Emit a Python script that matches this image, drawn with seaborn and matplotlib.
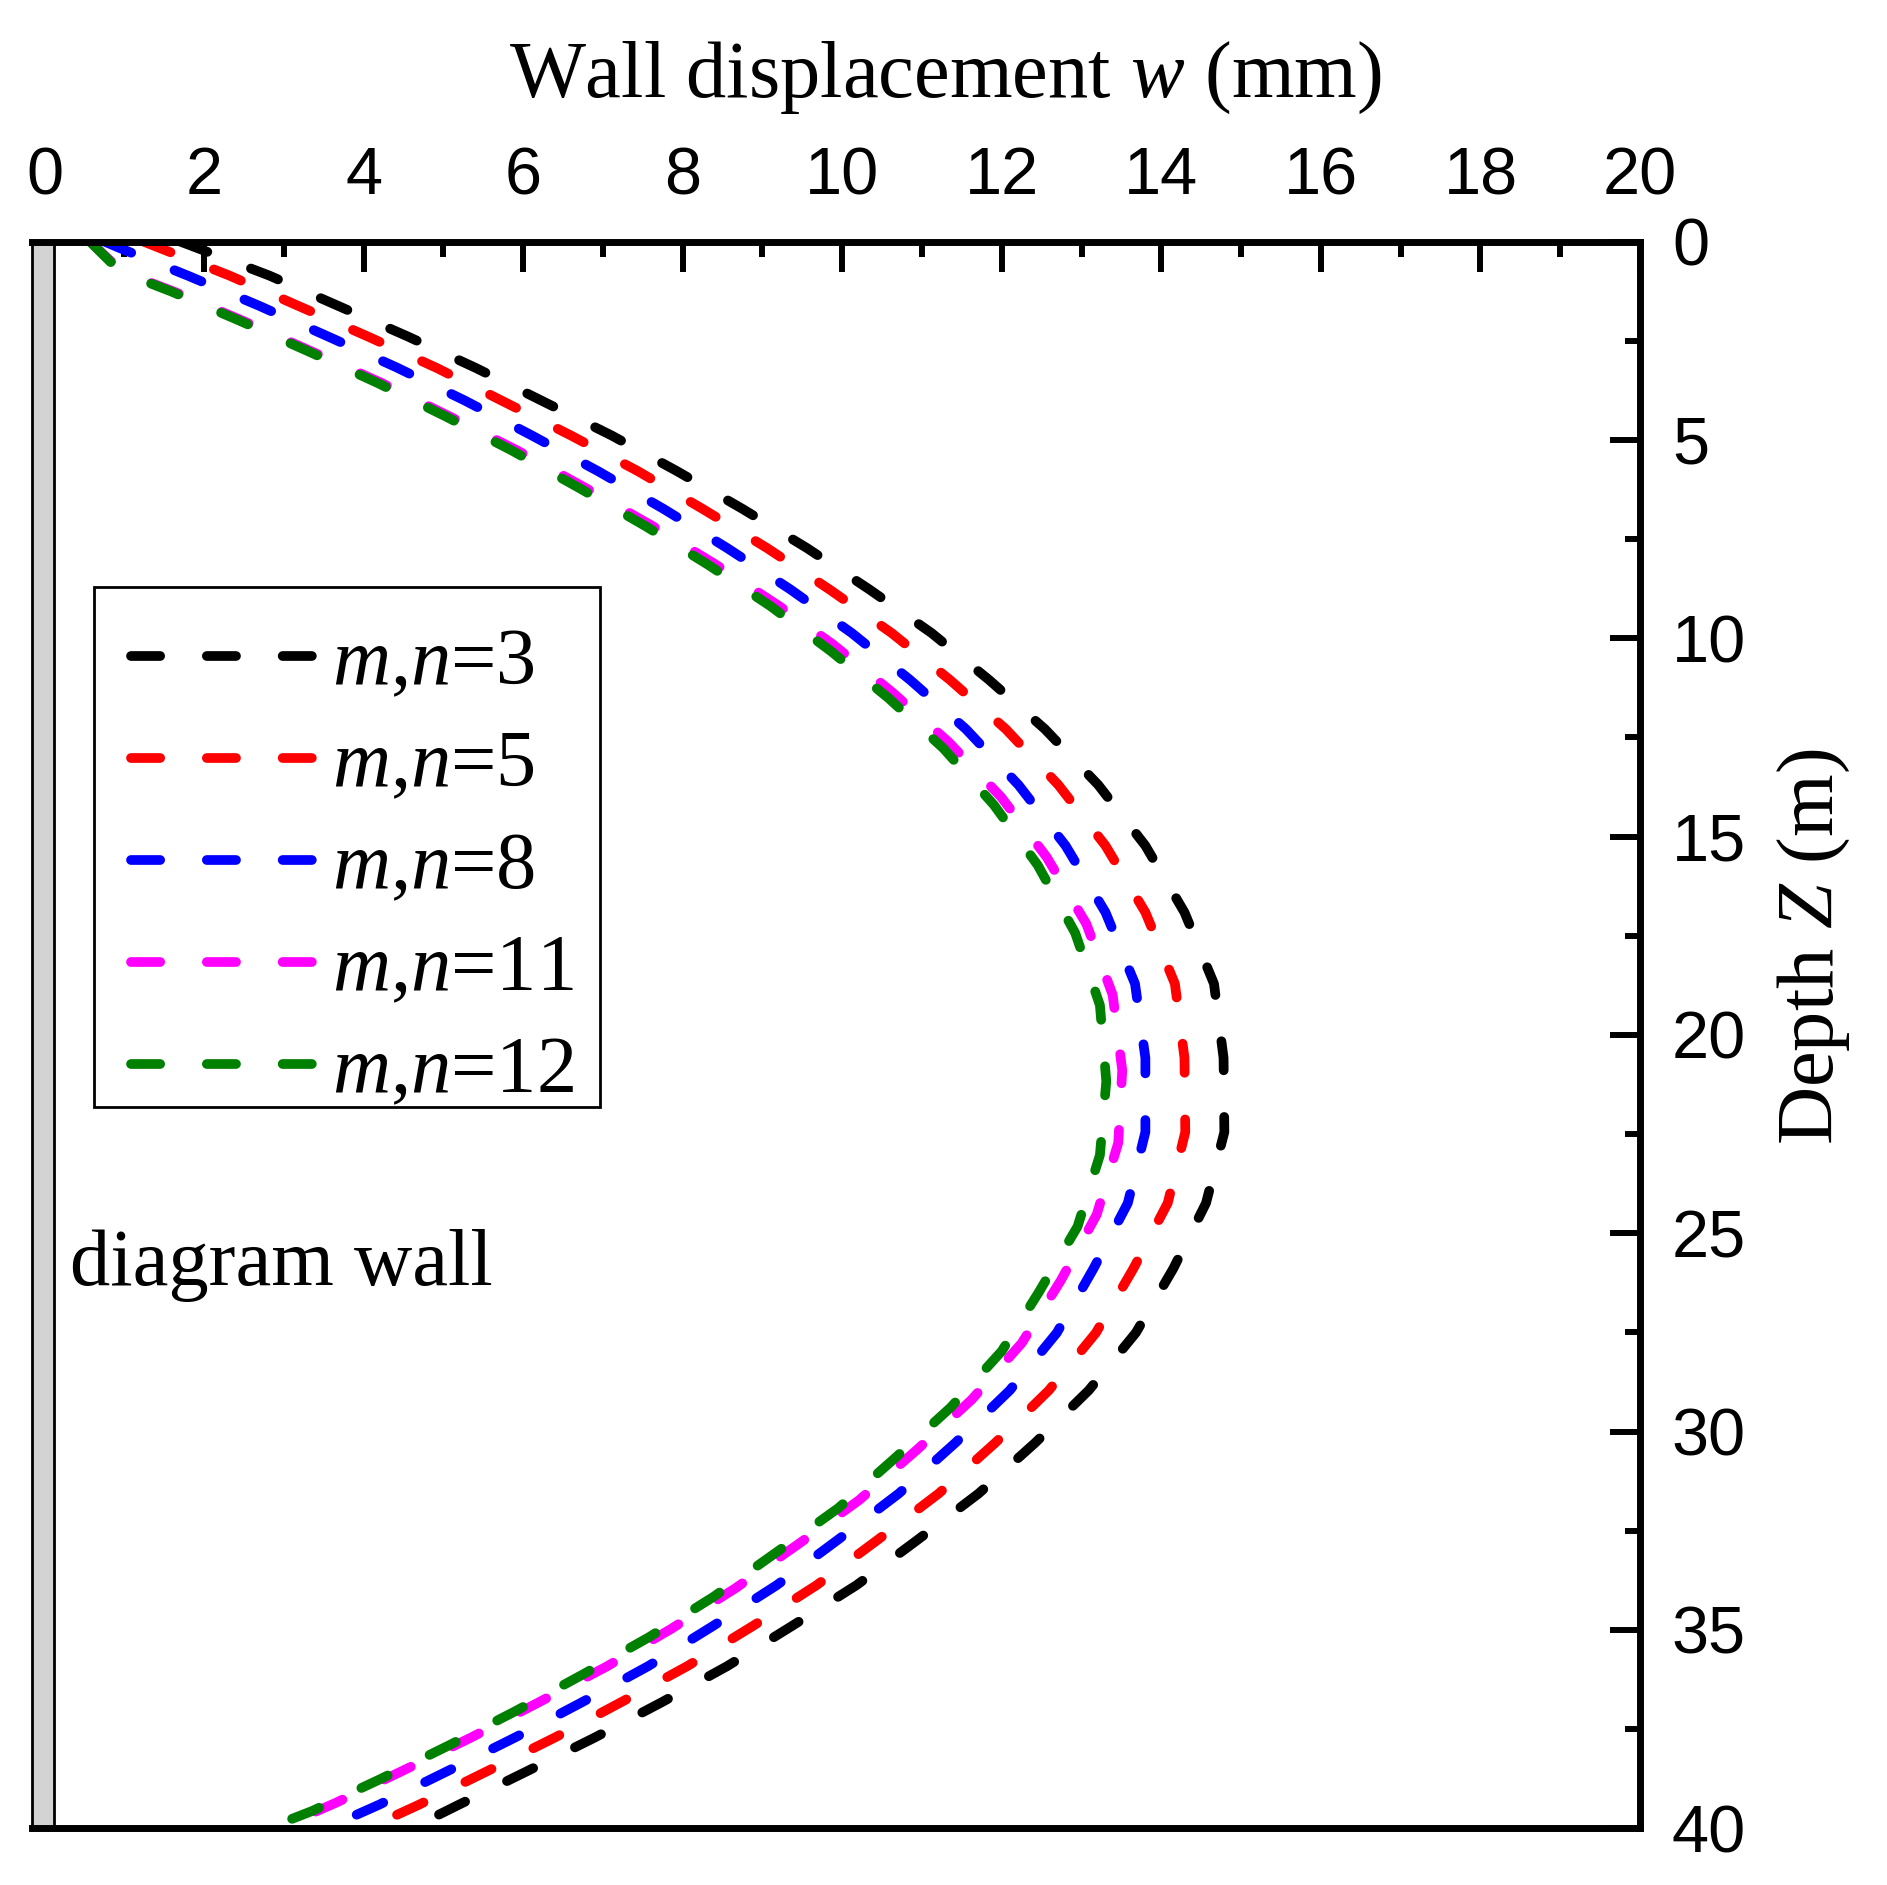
import matplotlib
matplotlib.use("Agg")
import matplotlib.pyplot as plt
import seaborn as sns
import pandas as pd
from matplotlib.patches import Rectangle
from matplotlib.ticker import MultipleLocator

# ---------------- data ----------------
series_values = ["3", "5", "8", "11", "12"]
series_colors = ["#000000", "#FF0000", "#0000FF", "#FF00FF", "#008000"]

depth_3 = [0, 0.19, 0.86, 1.63, 2.39, 3.19, 4.04, 4.89, 5.79, 6.74, 7.73, 8.77, 9.87, 11.05,
           12.29, 13.70, 15.23, 16.91, 18.71, 20.58, 22.45, 24.24, 25.89, 27.51, 28.96, 30.28,
           31.56, 32.72, 33.87, 34.90, 35.91, 36.82, 37.71, 38.56, 39.41, 40]
disp_3 = [1.70, 1.95, 2.82, 3.69, 4.55, 5.41, 6.26, 7.11, 7.93, 8.75, 9.56, 10.34, 11.12, 11.84,
          12.54, 13.21, 13.80, 14.29, 14.66, 14.78, 14.79, 14.56, 14.15, 13.68, 13.09, 12.42,
          11.71, 10.95, 10.18, 9.37, 8.56, 7.74, 6.90, 6.05, 5.19, 4.60]

depth_5 = [0, 0.16, 0.86, 1.63, 2.40, 3.19, 4.04, 4.89, 5.79, 6.74, 7.73, 8.77, 9.87, 11.05,
           12.29, 13.70, 15.23, 16.91, 18.71, 20.58, 22.45, 24.24, 25.89, 27.51, 28.96, 30.28,
           31.56, 32.72, 33.87, 34.90, 35.91, 36.82, 37.71, 38.56, 39.41, 40]
disp_5 = [1.24, 1.44, 2.32, 3.19, 4.06, 4.92, 5.76, 6.60, 7.44, 8.25, 9.06, 9.84, 10.62, 11.35,
          12.05, 12.71, 13.30, 13.80, 14.17, 14.29, 14.30, 14.08, 13.65, 13.18, 12.59, 11.92,
          11.21, 10.45, 9.68, 8.88, 8.06, 7.23, 6.40, 5.55, 4.69, 4.05]

depth_8 = [0, 0.17, 0.88, 1.62, 2.39, 3.17, 4.01, 4.89, 5.79, 6.74, 7.73, 8.77, 9.87, 11.05,
           12.29, 13.70, 15.23, 16.91, 18.71, 20.58, 22.45, 24.24, 25.89, 27.51, 28.96, 30.28,
           31.56, 32.72, 33.87, 34.90, 35.91, 36.82, 37.71, 38.56, 39.41, 40]
disp_8 = [0.75, 0.95, 1.82, 2.69, 3.55, 4.41, 5.27, 6.11, 6.94, 7.76, 8.56, 9.35, 10.12, 10.85,
          11.55, 12.21, 12.80, 13.30, 13.67, 13.80, 13.80, 13.58, 13.15, 12.69, 12.10, 11.42,
          10.71, 9.95, 9.18, 8.38, 7.57, 6.74, 5.90, 5.05, 4.19, 3.53]

depth_11 = [0, 0.76, 1.26, 2.00, 2.78, 3.56, 4.40, 5.27, 6.21, 7.17, 8.15, 9.19, 10.15, 11.35,
            12.61, 14.00, 15.51, 17.20, 18.99, 20.89, 22.72, 24.53, 26.19, 27.77, 29.20, 30.47,
            31.73, 32.85, 33.95, 34.98, 35.93, 36.82, 37.71, 38.54, 39.36, 40]
disp_11 = [0.57, 0.97, 1.62, 2.49, 3.36, 4.22, 5.07, 5.93, 6.78, 7.62, 8.42, 9.21, 9.88, 10.62,
           11.33, 11.99, 12.56, 13.06, 13.39, 13.51, 13.46, 13.19, 12.74, 12.25, 11.62, 10.93,
           10.21, 9.44, 8.66, 7.85, 7.04, 6.20, 5.35, 4.50, 3.65, 2.92]

depth_12 = [0, 0.76, 1.26, 2.00, 2.78, 3.56, 4.40, 5.27, 6.21, 7.17, 8.15, 9.19, 10.33, 11.51,
            12.78, 14.20, 15.72, 17.43, 19.25, 21.17, 23.03, 24.83, 26.50, 27.97, 29.39, 30.67,
            31.93, 33.05, 34.16, 35.18, 36.12, 37.04, 37.91, 38.76, 39.56, 40]
disp_12 = [0.57, 0.95, 1.59, 2.45, 3.32, 4.17, 5.02, 5.86, 6.70, 7.53, 8.32, 9.10, 9.86, 10.58,
           11.27, 11.90, 12.45, 12.92, 13.23, 13.31, 13.23, 12.95, 12.46, 12.00, 11.36, 10.66,
           9.95, 9.17, 8.39, 7.58, 6.75, 5.91, 5.07, 4.21, 3.36, 2.80]

x_ticks = [0, 2, 4, 6, 8, 10, 12, 14, 16, 18, 20]
y_ticks = [0, 5, 10, 15, 20, 25, 30, 35, 40]

depths = [depth_3, depth_5, depth_8, depth_11, depth_12]
disps = [disp_3, disp_5, disp_8, disp_11, disp_12]

# ---------------- style ----------------
sns.set_theme(style="white")
plt.rcParams["font.family"] = ["Liberation Serif", "DejaVu Serif"]
plt.rcParams["mathtext.fontset"] = "custom"
plt.rcParams["mathtext.rm"] = "Liberation Serif"
plt.rcParams["mathtext.it"] = "Liberation Serif:italic"
plt.rcParams["axes.edgecolor"] = "black"
plt.rcParams["text.color"] = "black"
plt.rcParams["axes.labelcolor"] = "black"
plt.rcParams["xtick.color"] = "black"
plt.rcParams["ytick.color"] = "black"

fig = plt.figure(figsize=(18.87, 18.85), dpi=100)
fig.patch.set_facecolor("white")
ax = fig.add_axes([0.01722, 0.03008, 0.85188, 0.84180])
ax.set_facecolor("white")

for val, col, z, w in zip(series_values, series_colors, depths, disps):
    df = pd.DataFrame({"w": w, "z": z})
    sns.lineplot(data=df, x="w", y="z", orient="y", estimator=None, errorbar=None,
                 sort=True, color=col, linewidth=7.0, linestyle=(0, (3.0, 4.8)),
                 dash_capstyle="round", label=f"$m$,$n$={val}", legend=False,
                 ax=ax, zorder=2)

# diaphragm wall strip
ax.add_patch(Rectangle((-0.15, 0), 0.265, 40, facecolor="#d3d3d3", edgecolor="black",
                       linewidth=2, zorder=3, clip_on=False))

ax.set_xlim(-0.15, 20)
ax.set_ylim(40, 0)

ax.xaxis.tick_top()
ax.yaxis.tick_right()
ax.set_xticks(x_ticks)
ax.set_yticks(y_ticks)
ax.xaxis.set_minor_locator(MultipleLocator(1))
ax.yaxis.set_minor_locator(MultipleLocator(2.5))
ax.tick_params(axis="both", which="major", direction="in", length=21.6, width=4.3,
               labelsize=48, color="black", labelcolor="black",
               labelfontfamily="Liberation Sans")
ax.tick_params(axis="both", which="minor", direction="in", length=10.8, width=4.3,
               color="black")
ax.tick_params(axis="x", which="major", pad=24)
ax.tick_params(axis="y", which="major", pad=23)
ax.grid(False)

for side in ["top", "bottom", "right"]:
    ax.spines[side].set_linewidth(5)
    ax.spines[side].set_color("black")
    ax.spines[side].set_zorder(4)
ax.spines["left"].set_visible(False)

ax.set_xlabel("Wall displacement $w$ (mm)", fontsize=58, color="black")
ax.xaxis.set_label_position("top")
ax.xaxis.set_label_coords(0.5677, 1.0911)
ax.xaxis.label.set_verticalalignment("baseline")
ax.xaxis.label.set_horizontalalignment("center")

ax.set_ylabel("Depth $Z$ (m)", fontsize=58, color="black")
ax.yaxis.set_label_position("right")
ax.yaxis.label.set_rotation(90)
ax.yaxis.label.set_rotation_mode("default")
ax.yaxis.label.set_verticalalignment("center")
ax.yaxis.label.set_horizontalalignment("center")
ax.yaxis.set_label_coords(1.108, 0.5554)

ax.text(0.0233, 0.3424, "diagram wall", transform=ax.transAxes, fontsize=58,
        color="black", ha="left", va="baseline", zorder=5)

# legend box (frame drawn separately so rows can sit like the reference)
ax.add_patch(Rectangle((0.0381, 0.4546), 0.3149, 0.3279, transform=ax.transAxes,
                       facecolor="white", edgecolor="black", linewidth=2, zorder=5))
leg = ax.legend(loc="upper left", bbox_to_anchor=(0.0613, 0.7565), borderaxespad=0,
                fontsize=58, frameon=False, handlelength=2.25, handletextpad=0.25,
                borderpad=0, labelspacing=0.354)
for t in leg.get_texts():
    t.set_color("black")
leg.set_zorder(6)

fig.savefig("out.png", dpi=100)
